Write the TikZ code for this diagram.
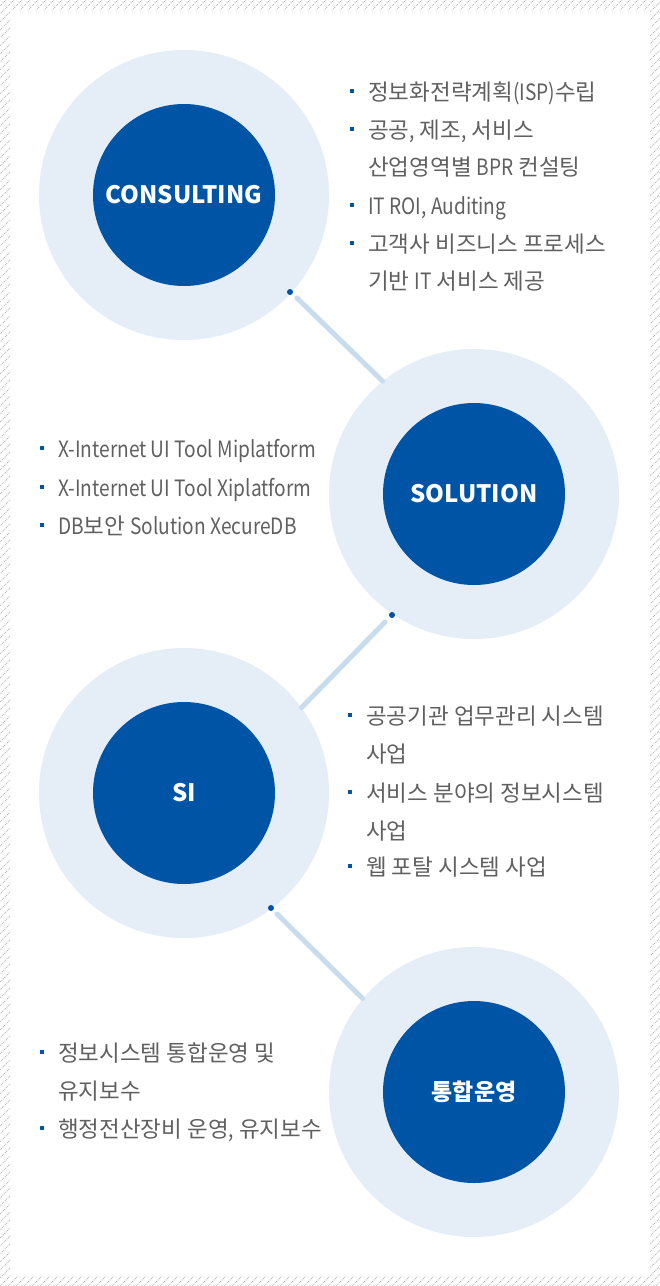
\documentclass[tikz,border=0pt]{standalone}
\usepackage{fontspec}
\setmainfont{Noto Sans CJK KR}
\newfontfamily\latn{Noto Sans CJK KR}[FakeStretch=0.85]
\newcommand\lt[1]{{\latn #1}}
\definecolor{navy}{HTML}{0054A6}
\definecolor{pale}{HTML}{E5EDF6}
\definecolor{linkc}{HTML}{C9DCEE}
\definecolor{txt}{HTML}{606060}
\definecolor{hatchc}{HTML}{BBBBBB}
\begin{document}
\begin{tikzpicture}[x=1pt,y=-1pt,
  outerc/.style={circle,fill=pale,minimum size=290pt,inner sep=0pt},
  innerc/.style={circle,fill=navy,minimum size=182pt,inner sep=0pt,text=white,font=\fontsize{24}{24}\selectfont\bfseries},
  link/.style={draw=linkc,line width=5pt,line cap=round},
  dotc/.style={circle,fill=navy,minimum size=6pt,inner sep=0pt},
  bul/.style={rectangle,fill=navy,minimum size=4pt,inner sep=0pt},
  item/.style={anchor=base west,inner sep=0pt,text=txt,font=\fontsize{22.5}{22.5}\selectfont},
  hatch/.style={draw=hatchc,line width=1pt,dash pattern=on 1pt off 1pt}]
\useasboundingbox (0,0) rectangle (660,1286);
\fill[white] (0,0) rectangle (660,1286);
\begin{scope}[even odd rule]
  \clip (0,0) rectangle (660,1286) (10,10) rectangle (650,1276);
  \foreach \a in {-1288,-1280,...,664} \draw[hatch] (\a,1286) -- ({\a+1286},0);
\end{scope}
% circles
\node[outerc] (c1o) at (184,195) {};
\node[outerc] (c2o) at (474,494) {};
\node[outerc] (c3o) at (184,793) {};
\node[outerc] (c4o) at (474,1092) {};
\node[innerc] (c1) at (184,195) {CONSULTING};
\node[innerc] (c2) at (474,494) {SOLUTION};
\node[innerc] (c3) at (184,793) {SI};
\node[innerc,font=\fontsize{23}{23}\selectfont\bfseries] (c4) at (474,1092) {통합운영};
% connectors
\coordinate (s1) at (297,298);
\coordinate (s2) at (385,622);
\coordinate (s3) at (277,914);
\draw[link] (s1) -- (c2o.129.6);
\draw[link] (s2) -- (c3o.36.6);
\draw[link] (s3) -- (c4o.140.3);
\node[dotc] (d1) at (290,292) {};
\node[dotc] (d2) at (392,615) {};
\node[dotc] (d3) at (271,908) {};
% CONSULTING list
\node[bul] (b11) at (352,91) {};
\node[item] (t11) at (368,100) {정보화전략계획\lt{(ISP)}수립};
\node[bul] (b12) at (352,129) {};
\node[item] (t12) at (368,138) {공공\lt{,} 제조\lt{,} 서비스};
\node[item] (t13) at (368,175) {산업영역별 \lt{BPR} 컨설팅};
\node[bul] (b14) at (352,205) {};
\node[item] (t14) at (368,214) {\lt{IT ROI, Auditing}};
\node[bul] (b15) at (352,243) {};
\node[item] (t15) at (368,252) {고객사 비즈니스 프로세스};
\node[item] (t16) at (368,289) {기반 \lt{IT} 서비스 제공};
% SOLUTION list
\node[bul] (b21) at (42,448) {};
\node[item] (t21) at (58,457) {\lt{X-Internet UI Tool Miplatform}};
\node[bul] (b22) at (42,487) {};
\node[item] (t22) at (58,496) {\lt{X-Internet UI Tool Xiplatform}};
\node[bul] (b23) at (42,525) {};
\node[item] (t23) at (58,534) {\lt{DB}보안 \lt{Solution XecureDB}};
% SI list
\node[bul] (b31) at (350,715) {};
\node[item] (t31) at (366,724) {공공기관 업무관리 시스템};
\node[item] (t32) at (366,762) {사업};
\node[bul] (b33) at (350,792) {};
\node[item] (t33) at (366,801) {서비스 분야의 정보시스템};
\node[item] (t34) at (366,839) {사업};
\node[bul] (b35) at (350,866) {};
\node[item] (t35) at (366,875) {웹 포탈 시스템 사업};
% 통합운영 list
\node[bul] (b41) at (42,1052) {};
\node[item] (t41) at (58,1061) {정보시스템 통합운영 및};
\node[item] (t42) at (58,1099) {유지보수};
\node[bul] (b43) at (42,1128) {};
\node[item] (t43) at (58,1137) {행정전산장비 운영\lt{,} 유지보수};
\end{tikzpicture}
\end{document}
